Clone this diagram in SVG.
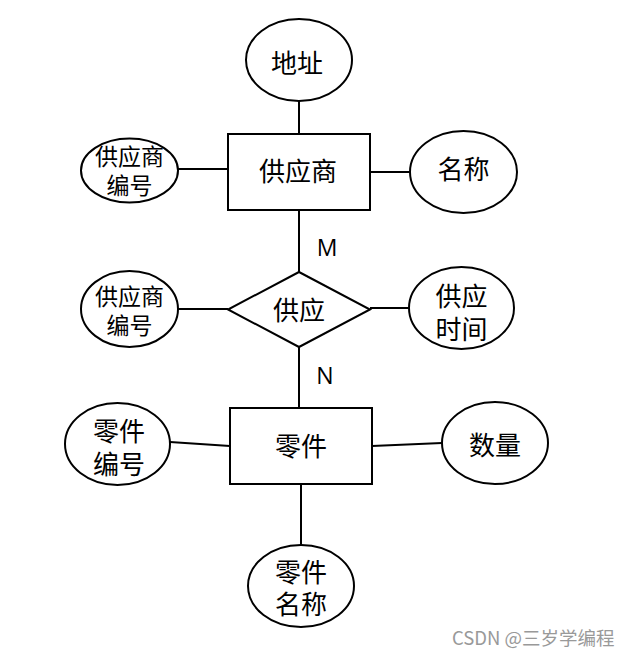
<svg xmlns="http://www.w3.org/2000/svg" width="630" height="654" viewBox="0 0 630 654">
<style>
.s{fill:#fff;stroke:#000;stroke-width:2}
.c{stroke:#000;stroke-width:2;fill:none}
text{font-family:"Liberation Sans","Noto Sans CJK SC",sans-serif;text-anchor:middle;dominant-baseline:central;fill:#000}
.b{font-size:26px}
.m{font-size:23px}
.l{font-size:23px;font-family:"Open Sans","Noto Sans",sans-serif}
.w{font-size:18.5px;fill:#999;text-anchor:start;font-family:"Noto Sans CJK SC",sans-serif}
</style>
<rect width="630" height="654" fill="#fff"/>
<g id="connectors">
<line class="c" x1="299" y1="101" x2="299" y2="134"/>
<line class="c" x1="178" y1="169" x2="228" y2="169"/>
<line class="c" x1="370" y1="172" x2="410" y2="172"/>
<line class="c" x1="299" y1="210" x2="299" y2="272"/>
<line class="c" x1="178" y1="309" x2="228" y2="309"/>
<line class="c" x1="370" y1="308" x2="409" y2="308"/>
<line class="c" x1="299" y1="347" x2="299" y2="408"/>
<line class="c" x1="170" y1="442" x2="230" y2="446"/>
<line class="c" x1="372" y1="446" x2="442" y2="443"/>
<line class="c" x1="301" y1="484" x2="301" y2="545"/>
</g>
<g id="addr"><ellipse class="s" cx="299" cy="60" rx="53" ry="41"/><text class="b" x="297" y="64">地址</text></g>
<g id="supplier"><rect class="s" x="228" y="134" width="142" height="76"/><text class="b" x="298" y="172">供应商</text></g>
<g id="supplier-no"><ellipse class="s" cx="129.5" cy="170.5" rx="48.5" ry="32"/><text class="m" x="129.5" y="157">供应商</text><text class="m" x="129.5" y="186">编号</text></g>
<g id="name"><ellipse class="s" cx="463.5" cy="172" rx="53.5" ry="41"/><text class="b" x="463.5" y="170">名称</text></g>
<g id="supply"><polygon class="s" points="299,272 370,309.5 299,347 228,309.5"/><text class="b" x="299" y="311">供应</text></g>
<g id="supply-supplier-no"><ellipse class="s" cx="129.5" cy="309" rx="48.5" ry="38"/><text class="m" x="129.5" y="297">供应商</text><text class="m" x="129.5" y="326">编号</text></g>
<g id="supply-time"><ellipse class="s" cx="461.5" cy="308" rx="52.5" ry="41"/><text class="b" x="461.5" y="297">供应</text><text class="b" x="461.5" y="330">时间</text></g>
<text class="l" x="327" y="247">M</text>
<text class="l" x="325" y="375">N</text>
<g id="part"><rect class="s" x="230" y="408" width="142" height="76"/><text class="b" x="301" y="447">零件</text></g>
<g id="part-no"><ellipse class="s" cx="117.5" cy="444" rx="52.5" ry="41"/><text class="b" x="119" y="432">零件</text><text class="b" x="119" y="465">编号</text></g>
<g id="qty"><ellipse class="s" cx="495" cy="443" rx="53" ry="41"/><text class="b" x="495" y="446">数量</text></g>
<g id="part-name"><ellipse class="s" cx="301" cy="586" rx="53" ry="41"/><text class="b" x="301" y="573">零件</text><text class="b" x="301" y="605">名称</text></g>
<text class="w" x="452" y="637">CSDN @三岁学编程</text>
</svg>
